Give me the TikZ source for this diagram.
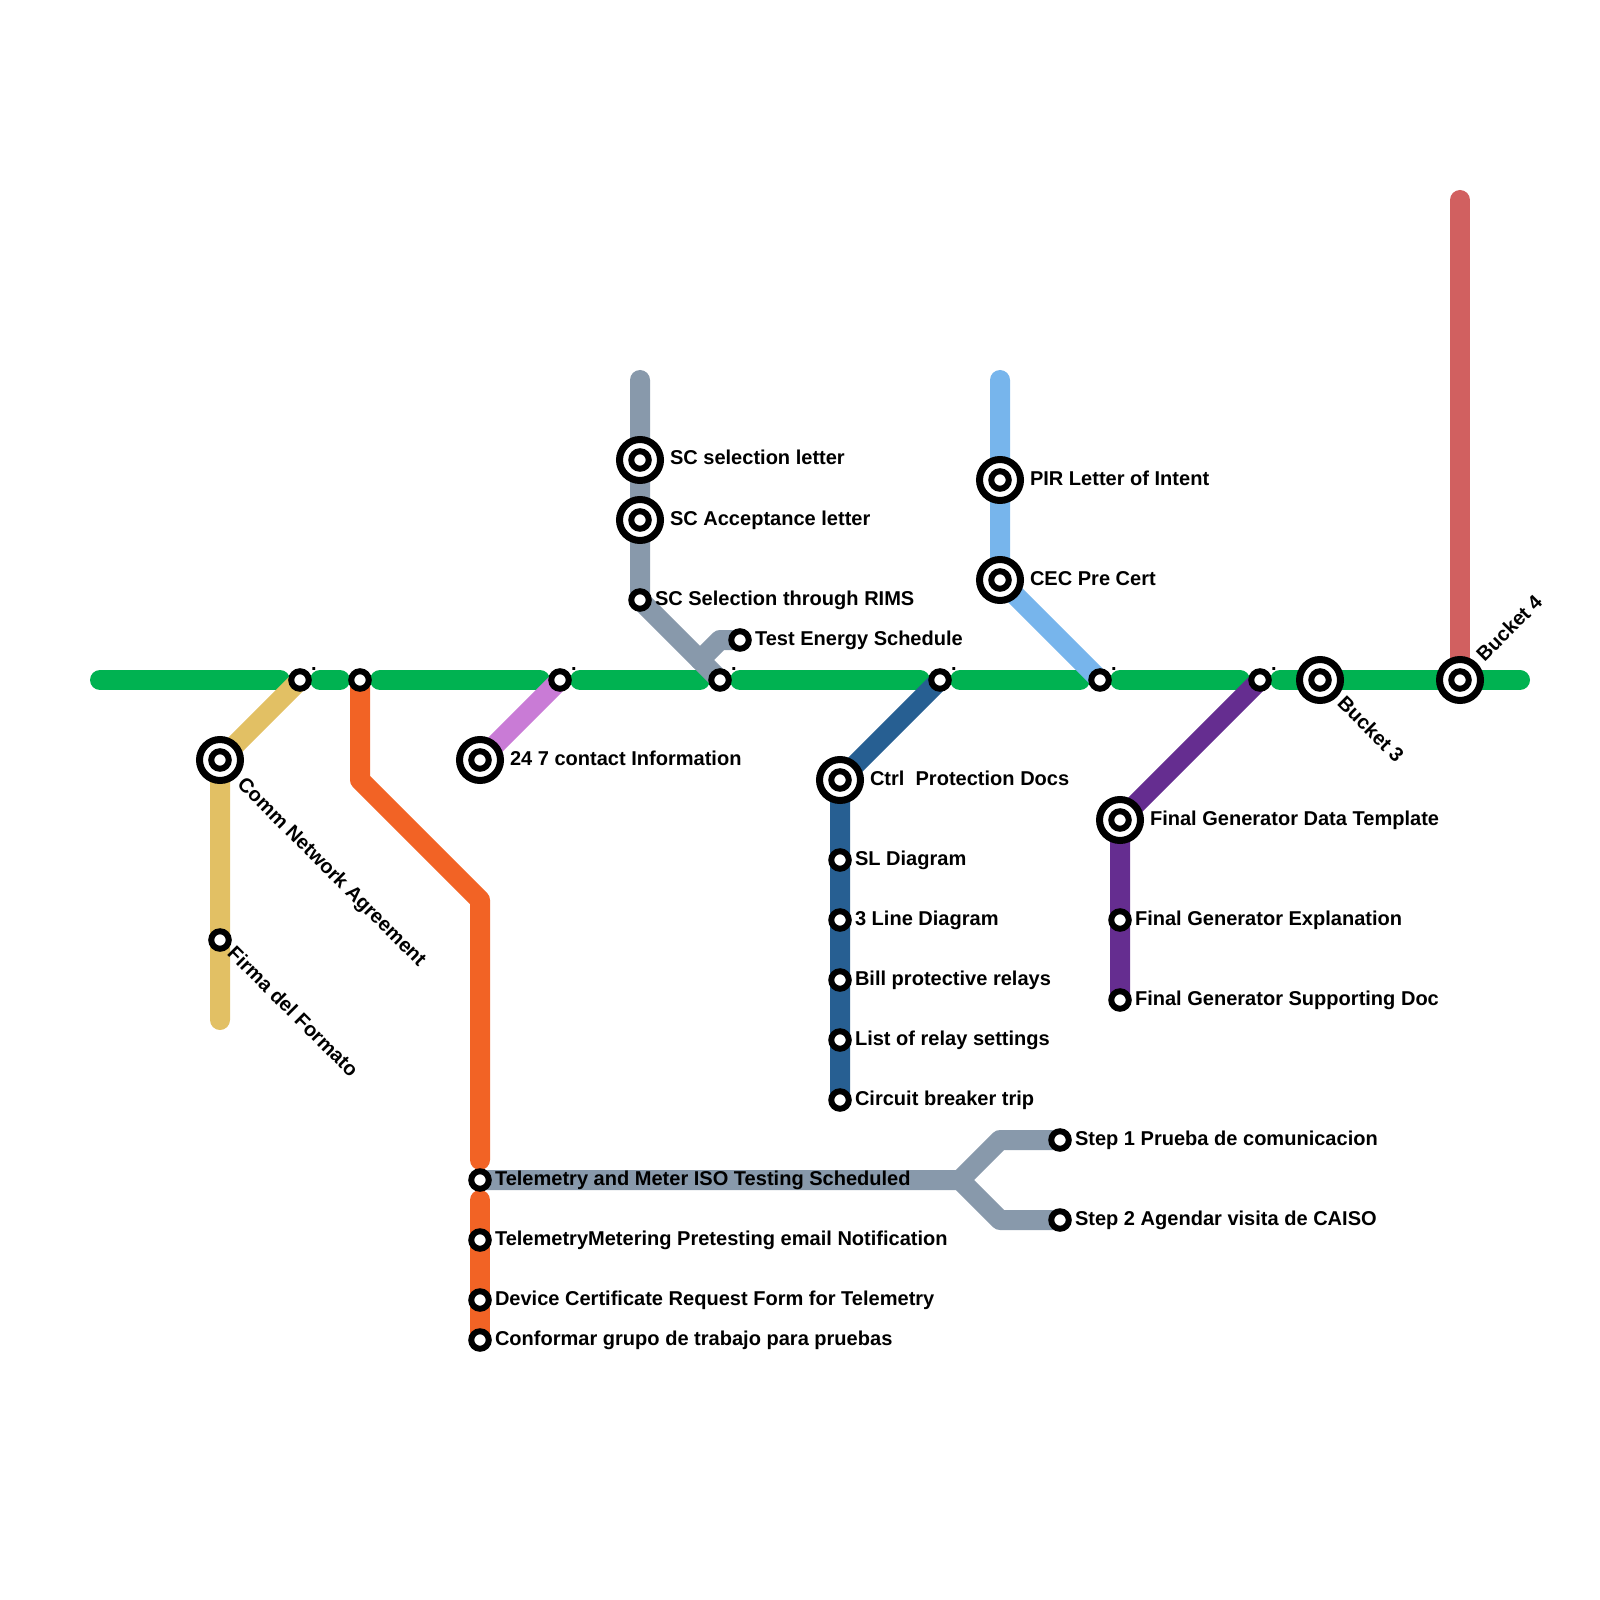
\documentclass[tikz,border=0pt]{standalone}
\usepackage{fontspec}
\setmainfont{Liberation Sans}
\usetikzlibrary{positioning,backgrounds}
\definecolor{trunkgreen}{HTML}{00B251}
\definecolor{commyellow}{HTML}{E2C064}
\definecolor{meterorange}{HTML}{F26325}
\definecolor{contactpink}{HTML}{C97BD6}
\definecolor{testgray}{HTML}{8899AB}
\definecolor{pirblue}{HTML}{77B5EC}
\definecolor{ctrlblue}{HTML}{275F92}
\definecolor{genpurple}{HTML}{652D90}
\definecolor{bucketred}{HTML}{D16060}
\tikzset{
  rail/.style={line width=2mm, line cap=round, line join=round},
  stn/.style={circle, draw=black, fill=white, line width=0.6mm, minimum size=1.75mm, inner sep=0pt, outer sep=0pt},
  hub/.style={circle, draw=black, fill=white, line width=0.7mm, minimum size=4.1mm, inner sep=0pt, outer sep=0pt},
  lbl/.style={inner sep=0pt, outer sep=0pt, text height=1.3mm, text depth=0.3mm, font=\fontsize{5.7pt}{6.5pt}\selectfont\bfseries}
}
\newcommand{\hubstn}[2]{\node[hub] (#1) at (#2) {}; \node[stn] (#1c) at (#2) {};}
\begin{document}
\begin{tikzpicture}[x=2mm, y=-2mm]
  \useasboundingbox (0,0) rectangle (80,80);
  % free ends
  \coordinate (g1a) at (5,34);   \coordinate (g1b) at (14,34);
  \coordinate (g2a) at (16,34);  \coordinate (g2b) at (17,34);
  \coordinate (g3a) at (19,34);  \coordinate (g3b) at (27,34);
  \coordinate (g4a) at (29,34);  \coordinate (g4b) at (35,34);
  \coordinate (g5a) at (37,34);  \coordinate (g5b) at (46,34);
  \coordinate (g6a) at (48,34);  \coordinate (g6b) at (54,34);
  \coordinate (g7a) at (56,34);  \coordinate (g7b) at (62,34);
  \coordinate (g8a) at (64,34);  \coordinate (g8b) at (76,34);
  \coordinate (commend) at (11,51);
  \coordinate (orbenda) at (18,39);
  \coordinate (orbendb) at (24,45);
  \coordinate (orstop) at (24,58);
  \coordinate (orstart) at (24,60);
  \coordinate (forkm) at (48,59);
  \coordinate (forka) at (50,57);
  \coordinate (forkb) at (50,61);
  \coordinate (sctop) at (32,19);
  \coordinate (testa) at (35,33);
  \coordinate (testb) at (36,32);
  \coordinate (pirtop) at (50,19);
  \coordinate (redtop) at (73,10);
  % stations on the trunk
  \node[stn] (s1) at (15,34) {};
  \node[stn] (s2) at (18,34) {};
  \node[stn] (s3) at (28,34) {};
  \node[stn] (s4) at (36,34) {};
  \node[stn] (s5) at (47,34) {};
  \node[stn] (s6) at (55,34) {};
  \node[stn] (s7) at (63,34) {};
  \hubstn{b3}{66,34}
  \hubstn{b4}{73,34}
  % branch stations
  \hubstn{comm}{11,38}
  \node[stn] (firma) at (11,47) {};
  \hubstn{cont}{24,38}
  \node[stn] (tmi) at (24,59) {};
  \node[stn] (tmb) at (24,62) {};
  \node[stn] (tmc) at (24,65) {};
  \node[stn] (tmd) at (24,67) {};
  \node[stn] (stepa) at (53,57) {};
  \node[stn] (stepb) at (53,61) {};
  \hubstn{sca}{32,23}
  \hubstn{scb}{32,26}
  \node[stn] (scc) at (32,30) {};
  \node[stn] (test) at (37,32) {};
  \hubstn{pir}{50,24}
  \hubstn{cec}{50,29}
  \hubstn{ctrl}{42,39}
  \node[stn] (cta) at (42,43) {};
  \node[stn] (ctb) at (42,46) {};
  \node[stn] (ctc) at (42,49) {};
  \node[stn] (ctd) at (42,52) {};
  \node[stn] (cte) at (42,55) {};
  \hubstn{gen}{56,41}
  \node[stn] (gena) at (56,46) {};
  \node[stn] (genb) at (56,50) {};
  % lines
  \begin{scope}[on background layer]
    \draw[rail, trunkgreen] (g1a) -- (g1b);
    \draw[rail, trunkgreen] (g2a) -- (g2b);
    \draw[rail, trunkgreen] (g3a) -- (g3b);
    \draw[rail, trunkgreen] (g4a) -- (g4b);
    \draw[rail, trunkgreen] (g5a) -- (g5b);
    \draw[rail, trunkgreen] (g6a) -- (g6b);
    \draw[rail, trunkgreen] (g7a) -- (g7b);
    \draw[rail, trunkgreen] (g8a) -- (g8b);
    \draw[rail, commyellow] (s1.center) -- (comm.center) -- (commend);
    \draw[rail, meterorange] (s2.center) -- (orbenda) -- (orbendb) -- (orstop);
    \draw[rail, meterorange] (orstart) -- (tmd.center);
    \draw[rail, contactpink] (s3.center) -- (cont.center);
    \draw[rail, testgray] (tmi.center) -- (forkm) -- (forka) -- (stepa.center);
    \draw[rail, testgray] (forkm) -- (forkb) -- (stepb.center);
    \draw[rail, testgray] (sctop) -- (scc.center) -- (s4.center);
    \draw[rail, testgray] (testa) -- (testb) -- (test.center);
    \draw[rail, pirblue] (pirtop) -- (cec.center) -- (s6.center);
    \draw[rail, ctrlblue] (s5.center) -- (ctrl.center) -- (cte.center);
    \draw[rail, genpurple] (s7.center) -- (gen.center) -- (genb.center);
    \draw[rail, bucketred] (redtop) -- (b4.center);
  \end{scope}
  % specks beside the trunk stations
  \node[lbl, right=1.1mm of s1.center, yshift=1.5mm] (d1) {.};
  \node[lbl, right=1.1mm of s3.center, yshift=1.5mm] (d3) {.};
  \node[lbl, right=1.1mm of s4.center, yshift=1.5mm] (d4) {.};
  \node[lbl, right=1.1mm of s5.center, yshift=1.5mm] (d5) {.};
  \node[lbl, right=1.1mm of s6.center, yshift=1.5mm] (d6) {.};
  \node[lbl, right=1.1mm of s7.center, yshift=1.5mm] (d7) {.};
  % labels
  \node[lbl, rotate=-45, anchor=west] (tcomm) at (12.0,39.1) {Comm Network Agreement};
  \node[lbl, rotate=-45, anchor=west] (tfirma) at (11.5,47.55) {Firma del Formato};
  \node[lbl, rotate=-45, anchor=west] (tb3) at (67.0,35.05) {Bucket 3};
  \node[lbl, rotate=45, anchor=west] (tb4) at (74.05,32.95) {Bucket 4};
  \node[lbl, right=3mm of cont.center] (tcont) {24 7 contact Information};
  \node[lbl, right=1.5mm of tmi.center] (ttmi) {Telemetry and Meter ISO Testing Scheduled};
  \node[lbl, right=1.5mm of tmb.center] (ttmb) {TelemetryMetering Pretesting email Notification};
  \node[lbl, right=1.5mm of tmc.center] (ttmc) {Device Certificate Request Form for Telemetry};
  \node[lbl, right=1.5mm of tmd.center] (ttmd) {Conformar grupo de trabajo para pruebas};
  \node[lbl, right=1.5mm of stepa.center] (tstepa) {Step 1 Prueba de comunicacion};
  \node[lbl, right=1.5mm of stepb.center] (tstepb) {Step 2 Agendar visita de CAISO};
  \node[lbl, right=3mm of sca.center] (tsca) {SC selection letter};
  \node[lbl, right=3mm of scb.center] (tscb) {SC Acceptance letter};
  \node[lbl, right=1.5mm of scc.center] (tscc) {SC Selection through RIMS};
  \node[lbl, right=1.5mm of test.center] (ttest) {Test Energy Schedule};
  \node[lbl, right=3mm of pir.center] (tpir) {PIR Letter of Intent};
  \node[lbl, right=3mm of cec.center] (tcec) {CEC Pre Cert};
  \node[lbl, right=3mm of ctrl.center] (tctrl) {Ctrl~ Protection Docs};
  \node[lbl, right=1.5mm of cta.center] (tcta) {SL Diagram};
  \node[lbl, right=1.5mm of ctb.center] (tctb) {3 Line Diagram};
  \node[lbl, right=1.5mm of ctc.center] (tctc) {Bill protective relays};
  \node[lbl, right=1.5mm of ctd.center] (tctd) {List of relay settings};
  \node[lbl, right=1.5mm of cte.center] (tcte) {Circuit breaker trip};
  \node[lbl, right=3mm of gen.center] (tgen) {Final Generator Data Template};
  \node[lbl, right=1.5mm of gena.center] (tgena) {Final Generator Explanation};
  \node[lbl, right=1.5mm of genb.center] (tgenb) {Final Generator Supporting Doc};
\end{tikzpicture}
\end{document}
